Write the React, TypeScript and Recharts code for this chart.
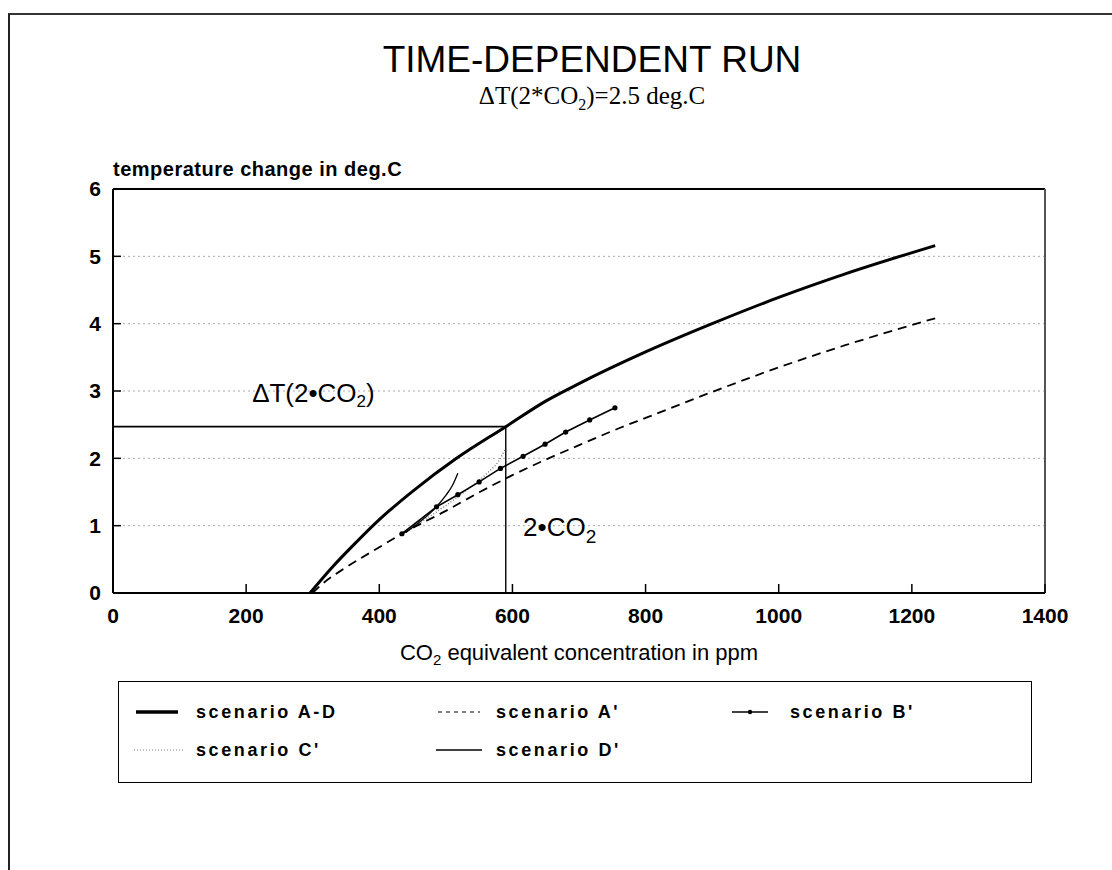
import React from 'react';
import {
  LineChart,
  Line,
  XAxis,
  YAxis,
  CartesianGrid,
  ReferenceLine,
  ReferenceDot,
} from 'recharts';

// CO2 equivalent concentration (ppm) and temperature change (deg.C) per scenario
const scenarioAD_co2 = [296, 330, 360, 400, 450, 516, 590, 650, 700, 800, 900, 1000, 1100, 1235];
const scenarioAD_temp = [0, 0.39, 0.7, 1.09, 1.51, 2.0, 2.47, 2.85, 3.11, 3.58, 4.0, 4.39, 4.74, 5.16];

const scenarioA_co2 = [300, 315, 350, 400, 434, 500, 551, 600, 701, 761, 800, 901, 1000, 1100, 1235];
const scenarioA_temp = [0, 0.14, 0.38, 0.68, 0.88, 1.22, 1.5, 1.75, 2.2, 2.45, 2.6, 2.99, 3.35, 3.68, 4.08];

const scenarioB_co2 = [434, 486, 518, 550, 582, 616, 649, 680, 716, 754];
const scenarioB_temp = [0.88, 1.28, 1.46, 1.65, 1.85, 2.03, 2.21, 2.39, 2.57, 2.75];

const scenarioC_co2 = [440, 470, 500, 530, 560, 580, 590];
const scenarioC_temp = [0.9, 1.1, 1.3, 1.52, 1.76, 1.97, 2.15];

const scenarioD_co2 = [440, 460, 480, 500, 510, 518];
const scenarioD_temp = [0.9, 1.05, 1.22, 1.45, 1.6, 1.78];

const xTicks = [0, 200, 400, 600, 800, 1000, 1200, 1400];
const yTicks = [0, 1, 2, 3, 4, 5, 6];

const doubledCo2 = 590;
const doubledTemp = 2.47;

const toPoints = (xs: number[], ys: number[]) => xs.map((x, i) => ({ x, y: ys[i] }));

const FONT = '"Liberation Sans", Arial, Helvetica, sans-serif';

const DeltaLabel = ({ viewBox }: any) => (
  <text x={viewBox.x} y={viewBox.y} dominantBaseline="central" fontFamily={FONT} fontSize={26} fill="#000">
    ΔT(2•CO
    <tspan fontSize={17} dy={8}>2</tspan>
    <tspan dy={-8}>)</tspan>
  </text>
);

const DoubleLabel = ({ viewBox }: any) => (
  <text x={viewBox.x} y={viewBox.y} dominantBaseline="central" fontFamily={FONT} fontSize={26} fill="#000">
    2•CO
    <tspan fontSize={19} dy={9}>2</tspan>
  </text>
);

const LegendSample = ({ type }: { type: string }) => (
  <svg width={50} height={12} style={{ display: 'block' }}>
    {type === 'AD' && <line x1={2} y1={6} x2={44} y2={6} stroke="#000" strokeWidth={3.5} />}
    {type === 'A' && <line x1={4} y1={6} x2={46} y2={6} stroke="#000" strokeWidth={1.2} strokeDasharray="4 4" />}
    {type === 'B' && (
      <>
        <line x1={4} y1={6} x2={40} y2={6} stroke="#000" strokeWidth={1.5} />
        <circle cx={22} cy={6} r={2.2} fill="#000" />
      </>
    )}
    {type === 'C' && <line x1={0} y1={6} x2={50} y2={6} stroke="#888" strokeWidth={1.2} strokeDasharray="1 2" />}
    {type === 'D' && <line x1={2} y1={6} x2={48} y2={6} stroke="#000" strokeWidth={1.5} />}
  </svg>
);

const legendItems = [
  { type: 'AD', label: 'scenario A-D', left: 15, top: 30 },
  { type: 'A', label: "scenario A'", left: 315, top: 30 },
  { type: 'B', label: "scenario B'", left: 609, top: 30 },
  { type: 'C', label: "scenario C'", left: 15, top: 68 },
  { type: 'D', label: "scenario D'", left: 315, top: 68 },
];

export default function App() {
  const tickStyle = { fontSize: 21, fontWeight: 700, fill: '#000', fontFamily: FONT };
  return (
    <div style={{ position: 'absolute', left: 0, top: 0, width: 1112, height: 870, background: '#fff', fontFamily: FONT }}>
      {/* page frame */}
      <div style={{ position: 'absolute', left: 8, top: 13, width: 1104, height: 857, borderTop: '2px solid #333', borderLeft: '2px solid #222' }} />

      <div style={{ position: 'absolute', left: 0, width: 1184, top: 40, textAlign: 'center', fontSize: 37, lineHeight: '40px', color: '#000' }}>
        TIME-DEPENDENT RUN
      </div>
      <div style={{ position: 'absolute', left: 0, width: 1184, top: 82, textAlign: 'center', fontSize: 25, lineHeight: '28px', fontFamily: '"Liberation Serif", "Times New Roman", serif', color: '#000' }}>
        ΔT(2*CO<sub style={{ fontSize: 16 }}>2</sub>)=2.5 deg.C
      </div>
      <div style={{ position: 'absolute', left: 113, top: 158, fontSize: 20, fontWeight: 600, color: '#000', letterSpacing: 0.5 }}>
        temperature change in deg.C
      </div>

      <div style={{ position: 'absolute', left: 0, top: 0 }}>
        <LineChart width={1112} height={870} margin={{ top: 189, right: 67, bottom: 247, left: 53 }}>
          <CartesianGrid vertical={false} stroke="#aaa" strokeDasharray="2 3" />
          <XAxis
            type="number"
            dataKey="x"
            domain={[0, 1400]}
            ticks={xTicks}
            allowDuplicatedCategory={false}
            tick={tickStyle}
            tickSize={-9}
            tickMargin={24}
            tickLine={{ stroke: '#000', strokeWidth: 1.5 }}
            axisLine={{ stroke: '#000', strokeWidth: 2 }}
            height={30}
          />
          <YAxis
            type="number"
            dataKey="y"
            domain={[0, 6]}
            ticks={yTicks}
            tick={tickStyle}
            tickSize={-8}
            tickMargin={20}
            tickLine={{ stroke: '#000', strokeWidth: 1.5 }}
            axisLine={{ stroke: '#000', strokeWidth: 2 }}
            width={60}
          />
          <ReferenceLine y={6} stroke="#000" strokeWidth={2} />
          <ReferenceLine x={1400} stroke="#555" strokeWidth={2} />
          <ReferenceLine
            segment={[{ x: 0, y: doubledTemp }, { x: doubledCo2, y: doubledTemp }]}
            stroke="#000"
            strokeWidth={1.8}
          />
          <ReferenceLine
            segment={[{ x: doubledCo2, y: 0 }, { x: doubledCo2, y: doubledTemp }]}
            stroke="#000"
            strokeWidth={1.4}
          />
          <ReferenceDot x={209} y={2.97} r={0} fill="none" stroke="none" label={<DeltaLabel />} />
          <ReferenceDot x={616} y={0.98} r={0} fill="none" stroke="none" label={<DoubleLabel />} />

          <Line
            data={toPoints(scenarioC_co2, scenarioC_temp)}
            dataKey="y"
            type="monotone"
            stroke="#777"
            strokeWidth={1.4}
            strokeDasharray="1 2"
            dot={false}
            isAnimationActive={false}
          />
          <Line
            data={toPoints(scenarioD_co2, scenarioD_temp)}
            dataKey="y"
            type="monotone"
            stroke="#000"
            strokeWidth={1.3}
            dot={false}
            isAnimationActive={false}
          />
          <Line
            data={toPoints(scenarioA_co2, scenarioA_temp)}
            dataKey="y"
            type="monotone"
            stroke="#000"
            strokeWidth={1.8}
            strokeDasharray="9 6"
            dot={false}
            isAnimationActive={false}
          />
          <Line
            data={toPoints(scenarioB_co2, scenarioB_temp)}
            dataKey="y"
            type="linear"
            stroke="#000"
            strokeWidth={1.6}
            dot={{ r: 2.6, fill: '#000', stroke: '#000', strokeWidth: 0 }}
            isAnimationActive={false}
          />
          <Line
            data={toPoints(scenarioAD_co2, scenarioAD_temp)}
            dataKey="y"
            type="monotone"
            stroke="#000"
            strokeWidth={3}
            dot={false}
            isAnimationActive={false}
          />
        </LineChart>
      </div>

      <div style={{ position: 'absolute', left: 113, width: 932, top: 640, textAlign: 'center', fontSize: 22, color: '#000' }}>
        CO<sub style={{ fontSize: 15 }}>2</sub> equivalent concentration in ppm
      </div>

      <div style={{ position: 'absolute', left: 118, top: 681, width: 912, height: 100, border: '1.5px solid #000' }}>
        {legendItems.map((item) => (
          <div key={item.label} style={{ position: 'absolute', left: item.left, top: item.top - 10, display: 'flex', alignItems: 'center', gap: 12 }}>
            <LegendSample type={item.type} />
            <span style={{ fontSize: 18, fontWeight: 700, letterSpacing: 2.6, color: '#000', lineHeight: '20px' }}>{item.label}</span>
          </div>
        ))}
      </div>
    </div>
  );
}
